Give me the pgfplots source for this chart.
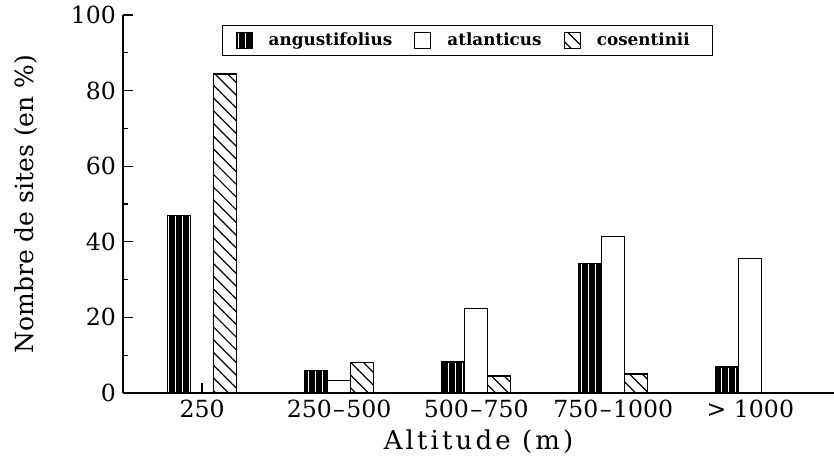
\documentclass[border=0pt]{standalone}
\usepackage{pgfplots}
\pgfplotsset{compat=1.18}
\usetikzlibrary{patterns.meta}
\usepackage{fontspec}
\setmainfont{DejaVu Serif}
\newfontfamily\spacedfont[LetterSpace=12]{DejaVu Serif}
\newcommand{\rng}[2]{#1\kern.06em–\kern.06em#2}

\begin{document}
\begin{tikzpicture}
\useasboundingbox (-61.5pt,-38.5pt) rectangle (355.5pt,196.5pt);
\begin{axis}[
    width=355.5pt, height=189pt, scale only axis,
    ybar=0pt, bar width=11.5pt,
    xmin=-0.577, xmax=4.61, ymin=0, ymax=100,
    axis x line=bottom, axis y line=left,
    axis line style={-, line width=0.7pt},
    xtick={0,...,4},
    xticklabels={250, \rng{250}{500}, \rng{500}{750}, \rng{750}{1000}, {> 1000}},
    ytick={0,20,...,100}, minor ytick={10,30,...,90},
    tick align=inside, major tick length=5pt, minor tick length=2.5pt,
    tick style={black, line width=0.6pt},
    tick label style={font=\fontsize{11.8}{13}\selectfont},
    /pgf/number format/assume math mode=true,
    xlabel={\spacedfont\fontsize{13}{15}\selectfont Altitude (m)},
    ylabel={\fontsize{12.5}{14}\selectfont Nombre de sites (en \%)},
    xlabel style={at={(ticklabel cs:0.5,-1pt)}, anchor=near ticklabel},
    ylabel style={at={(ticklabel cs:0.5,10pt)}, anchor=near ticklabel},
    legend columns=-1,
    legend style={at={(0.139,0.9735)}, anchor=north west, draw=black,
        line width=0.7pt, inner ysep=1.5pt, inner xsep=6.5pt,
        font=\bfseries\fontsize{8.4}{9}\selectfont,
        /tikz/every odd column/.append style={column sep=6pt},
        /tikz/every even column/.append style={column sep=9pt}},
    legend image code/.code={\draw[#1, line width=0.6pt] (0pt,-4pt) rectangle (8pt,4pt);},
]
% angustifolius
\addplot[draw=black, line width=0.6pt, fill=black,
    postaction={pattern={Lines[angle=90, distance=3.5pt, line width=0.35pt]}, pattern color=white}]
    coordinates {(0,47) (1,6) (2,8.2) (3,34.3) (4,6.9)};
% atlanticus
\addplot[draw=black, line width=0.6pt, fill=white]
    coordinates {(0,0) (1,3.4) (2,22.4) (3,41.4) (4,35.6)};
% cosentinii
\addplot[draw=black, line width=0.6pt, fill=white,
    postaction={pattern={Lines[angle=-45, distance=4.5pt, line width=0.6pt]}, pattern color=black}]
    coordinates {(0,84.4) (1,8) (2,4.5) (3,5) (4,0)};
\legend{angustifolius, atlanticus, cosentinii\hspace*{3pt}}
\end{axis}
\end{tikzpicture}
\end{document}
